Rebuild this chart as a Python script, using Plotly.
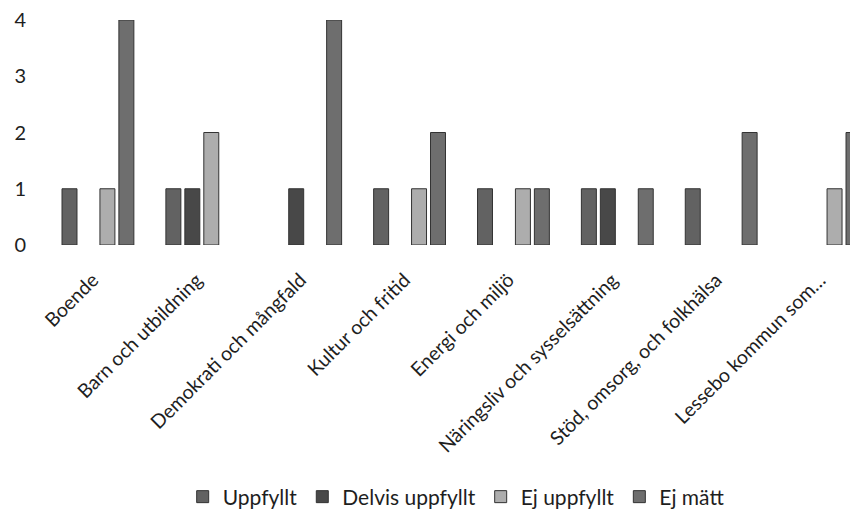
import plotly.graph_objects as go

categories = [
    "Boende",
    "Barn och utbildning",
    "Demokrati och mångfald",
    "Kultur och fritid",
    "Energi och miljö",
    "Näringsliv och sysselsättning",
    "Stöd, omsorg, och folkhälsa",
    "Lessebo kommun som…",
]
uppfyllt = [1, 1, 0, 1, 1, 1, 1, 0]
delvis_uppfyllt = [0, 1, 1, 0, 0, 1, 0, 0]
ej_uppfyllt = [1, 2, 0, 1, 1, 0, 0, 1]
ej_matt = [4, 0, 4, 2, 1, 1, 2, 2]

series_names = ["Uppfyllt", "Delvis uppfyllt", "Ej uppfyllt", "Ej mätt"]
series_values = [uppfyllt, delvis_uppfyllt, ej_uppfyllt, ej_matt]
series_colors = ["#626262", "#484848", "#adadad", "#6e6e6e"]

FONT = "Lato"
TXT = "#1e1e1e"

fig = go.Figure()
for name, vals, col in zip(series_names, series_values, series_colors):
    fig.add_trace(go.Bar(
        x=categories, y=[v if v else None for v in vals], name=name,
        marker=dict(color=col, line=dict(color="#333333", width=1)),
    ))

fig.update_layout(
    width=842, height=507,
    margin=dict(l=38, r=0, t=12, b=270, autoexpand=False),
    paper_bgcolor="white", plot_bgcolor="white",
    barmode="group", bargap=0.27, bargroupgap=0.21,
    font=dict(family=FONT, size=20, color=TXT),
    showlegend=True,
    legend=dict(
        orientation="h", x=0.17, xanchor="left", y=-1.12, yanchor="middle",
        font=dict(family=FONT, size=21, color=TXT),
        itemwidth=30, traceorder="normal",
    ),
)
fig.update_xaxes(
    range=[-0.5, 7.24], tickangle=-45, showgrid=False, showline=False,
    zeroline=False, ticks="outside", ticklen=15, tickcolor="rgba(0,0,0,0)",
    ticklabelshift=-5,
    tickfont=dict(family=FONT, size=19.5, color=TXT), automargin=False,
)
fig.update_yaxes(
    range=[0, 4], tickvals=[0, 1, 2, 3, 4], showgrid=False, showline=False,
    zeroline=False, ticks="outside", ticklen=15, tickcolor="rgba(0,0,0,0)",
    ticklabeloverflow="allow",
    tickfont=dict(family=FONT, size=20, color=TXT), automargin=False,
)

fig.write_html("out.html")
